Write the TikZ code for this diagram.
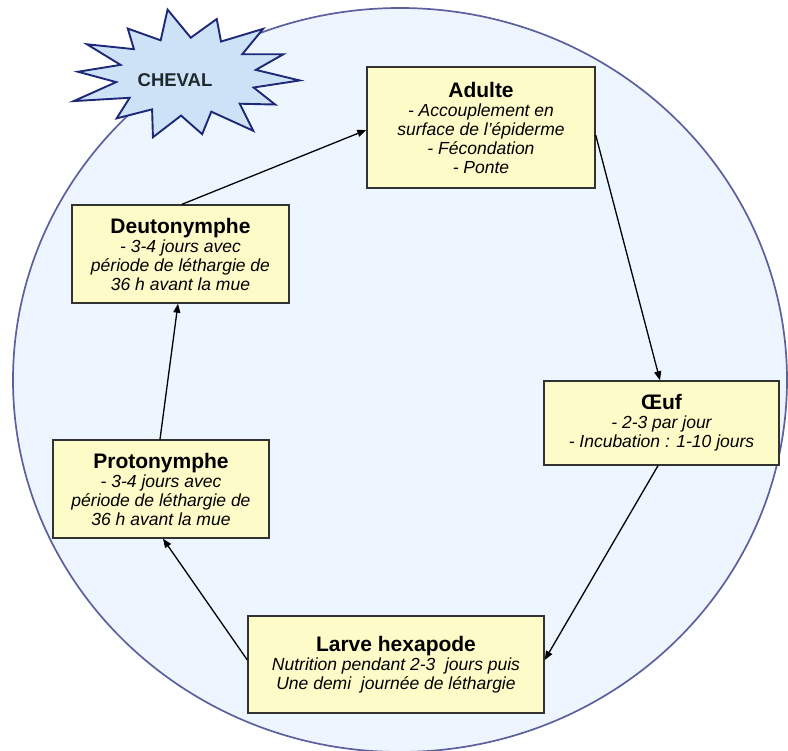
\documentclass[tikz,border=0pt]{standalone}
\usepackage{fontspec}
\setmainfont{Liberation Sans}
\usetikzlibrary{arrows.meta}
\definecolor{circfill}{RGB}{237,246,254}
\definecolor{circline}{RGB}{92,96,160}
\definecolor{boxfill}{RGB}{253,251,200}
\definecolor{boxline}{RGB}{50,50,50}
\definecolor{starfill}{RGB}{205,226,246}
\definecolor{starline}{RGB}{30,40,120}
\definecolor{startext}{RGB}{30,40,45}
\newcommand{\ttl}{\fontsize{21}{23}\selectfont\bfseries\upshape}
\tikzset{
  stagebox/.style={draw=boxline, fill=boxfill, line width=1.4pt, inner sep=0pt,
    align=center, font=\fontsize{17.5}{19}\selectfont\itshape},
  cyc/.style={-{Triangle[length=9pt,width=7pt]}, line width=1.3pt, black}
}
\begin{document}
\begin{tikzpicture}[x=1pt,y=-1pt]
\useasboundingbox (0,0) rectangle (788,751);
% big circle
\draw[line width=1.7pt, draw=circline, fill=circfill]
  (400,380) ellipse [x radius=387, y radius=372];
% star
\draw[line width=1.9pt, draw=starline, fill=starfill, line join=miter]
  plot[samples=28, domain=0:27, variable=\k]
  ({186+114*({1.0,.62,.9,.64,1.04,.6,.92,.62,1.0,.6,.9,.6,1.06,.62,.95,.6,1.0,.62,.9,.6,1.05,.6,.93,.62,1.0,.6,.92,.62}[int(\k)])*cos(\k*12.857+4)},
   {76+64*({1.0,.62,.9,.64,1.04,.6,.92,.62,1.0,.6,.9,.6,1.06,.62,.95,.6,1.0,.62,.9,.6,1.05,.6,.93,.62,1.0,.6,.92,.62}[int(\k)])*sin(\k*12.857+4)}) -- cycle;
\node[font=\fontsize{18.5}{20}\selectfont\bfseries, text=startext] (cheval) at (175,80) {CHEVAL};
% boxes
\node[stagebox, minimum width=228, minimum height=121] (adult) at (481,127.5)
  {{\ttl Adulte}\\- Accouplement en\\surface de l'épiderme\\- Fécondation\\- Ponte};
\node[stagebox, minimum width=217, minimum height=98] (deut) at (180.5,254)
  {{\ttl Deutonymphe}\\- 3-4 jours avec\\période de léthargie de\\36 h avant la mue};
\node[stagebox, minimum width=216, minimum height=98] (prot) at (161,489)
  {{\ttl Protonymphe}\\- 3-4 jours avec\\période de léthargie de\\36 h avant la mue};
\node[stagebox, minimum width=235, minimum height=84] (oeuf) at (661.5,423)
  {{\ttl Œuf}\\- 2-3 par jour\\- Incubation : 1-10 jours};
\node[stagebox, minimum width=296, minimum height=97] (larve) at (396,664.5)
  {{\ttl Larve hexapode}\\Nutrition pendant 2-3\ \ jours puis\\Une demi\ \ journée de léthargie};
% arrows
\draw[cyc] ([xshift=-1pt]prot.north) -- ([xshift=-2.5pt]deut.south);
\draw[cyc] ([xshift=1.5pt]deut.north) -- ([yshift=-2.5pt]adult.west);
\draw[cyc] ([yshift=-7.5pt]adult.east) -- ([xshift=-1.5pt]oeuf.north);
\draw[cyc] ([xshift=-3.5pt]oeuf.south) -- ([yshift=4.5pt]larve.east);
\draw[cyc] ([yshift=4.5pt]larve.west) -- ([xshift=2pt]prot.south);
\end{tikzpicture}
\end{document}
